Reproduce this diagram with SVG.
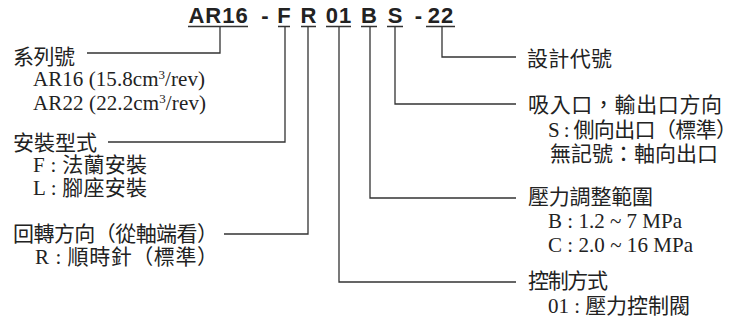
<svg xmlns="http://www.w3.org/2000/svg" width="743" height="329" viewBox="0 0 743 329">
<style>
.code{font-family:"Liberation Sans",Arial,sans-serif;font-weight:bold;font-size:22px;fill:#222;text-anchor:middle;letter-spacing:1px}
.t{font-family:"Liberation Serif","Noto Sans CJK TC",serif;font-size:21px;fill:#222}
.s{font-family:"Liberation Serif","Noto Sans CJK TC",serif;font-size:21px;fill:#222}
.ln{fill:none;stroke:#333;stroke-width:1.3}
</style>
<rect width="743" height="329" fill="#fff"/>
<g id="code">
<text class="code" x="218.5" y="23">AR16</text>
<text class="code" x="265.5" y="23">-</text>
<text class="code" x="284.5" y="23">F</text>
<text class="code" x="309" y="23">R</text>
<text class="code" x="339" y="23">01</text>
<text class="code" x="369.5" y="23">B</text>
<text class="code" x="395.5" y="23">S</text>
<text class="code" x="419" y="23">-</text>
<text class="code" x="441" y="23">22</text>
<path class="ln" d="M188 26.5H248M278 26.5H290M301 26.5H316M326 26.5H351M361 26.5H377M387 26.5H403M426 26.5H455"/>
</g>
<g id="connectors">
<path class="ln" d="M220 27V53H87"/>
<path class="ln" d="M285 27V142H108"/>
<path class="ln" d="M308 27V234H224"/>
<path class="ln" d="M339 27V282H516"/>
<path class="ln" d="M370 27V198H516"/>
<path class="ln" d="M395 27V104H516"/>
<path class="ln" d="M442 27V57H516"/>
</g>
<g id="series">
<text class="t" x="13" y="64" textLength="62" lengthAdjust="spacing">系列號</text>
<text class="s" x="33" y="86" textLength="172" lengthAdjust="spacing">AR16 (15.8cm<tspan font-size="13" dy="-7">3</tspan><tspan dy="7">/rev)</tspan></text>
<text class="s" x="33" y="110" textLength="173" lengthAdjust="spacing">AR22 (22.2cm<tspan font-size="13" dy="-7">3</tspan><tspan dy="7">/rev)</tspan></text>
</g>
<g id="mount">
<text class="t" x="13" y="150" textLength="84" lengthAdjust="spacing">安裝型式</text>
<text class="s" x="33" y="172" textLength="114" lengthAdjust="spacing">F : 法蘭安裝</text>
<text class="s" x="33" y="195" textLength="114" lengthAdjust="spacing">L : 腳座安裝</text>
</g>
<g id="rotation">
<text class="t" x="13" y="241" textLength="205" lengthAdjust="spacing">回轉方向（從軸端看）</text>
<text class="s" x="35" y="264" textLength="183" lengthAdjust="spacing">R : 順時針（標準）</text>
</g>
<g id="design">
<text class="t" x="527" y="66" textLength="85" lengthAdjust="spacing">設計代號</text>
</g>
<g id="port">
<text class="t" x="528" y="112" textLength="194" lengthAdjust="spacing">吸入口，輸出口方向</text>
<text class="s" x="548" y="137" textLength="189" lengthAdjust="spacing">S : 側向出口（標準）</text>
<text class="s" x="550" y="161" textLength="168" lengthAdjust="spacing">無記號：軸向出口</text>
</g>
<g id="pressure">
<text class="t" x="528" y="204" textLength="125" lengthAdjust="spacing">壓力調整範圍</text>
<text class="s" x="548" y="228" textLength="134" lengthAdjust="spacing">B : 1.2 ~ 7 MPa</text>
<text class="s" x="548" y="252" textLength="145" lengthAdjust="spacing">C : 2.0 ~ 16 MPa</text>
</g>
<g id="control">
<text class="t" x="528" y="288" textLength="80" lengthAdjust="spacing">控制方式</text>
<text class="s" x="548" y="313" textLength="142" lengthAdjust="spacing">01 : 壓力控制閥</text>
</g>
</svg>
